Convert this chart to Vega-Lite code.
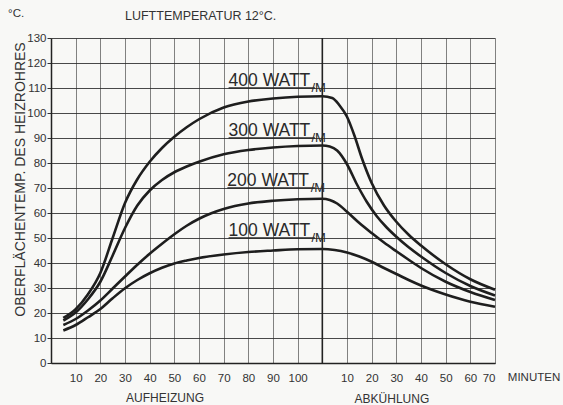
{
  "$schema": "https://vega.github.io/schema/vega-lite/v6.json",
  "width": 444,
  "height": 325,
  "autosize": {"type": "none"},
  "padding": {"left": 51, "top": 38, "right": 68, "bottom": 42},
  "background": "#f8f8f6",
  "config": {"view": {"stroke": null}, "font": "Liberation Sans"},
  "datasets": {
    "curves": [
      {"series": "400", "t": 5, "T": 18}, {"series": "400", "t": 10, "T": 21.5}, {"series": "400", "t": 15, "T": 27.5}, {"series": "400", "t": 20, "T": 36}, {"series": "400", "t": 25, "T": 50}, {"series": "400", "t": 30, "T": 64}, {"series": "400", "t": 35, "T": 73.5}, {"series": "400", "t": 40, "T": 80.5}, {"series": "400", "t": 45, "T": 86}, {"series": "400", "t": 50, "T": 90.5}, {"series": "400", "t": 55, "T": 94.3}, {"series": "400", "t": 60, "T": 97.5}, {"series": "400", "t": 70, "T": 102.2}, {"series": "400", "t": 80, "T": 104.6}, {"series": "400", "t": 90, "T": 105.8}, {"series": "400", "t": 100, "T": 106.5}, {"series": "400", "t": 110, "T": 106.7}, {"series": "400", "t": 114, "T": 106}, {"series": "400", "t": 117, "T": 103}, {"series": "400", "t": 120, "T": 98.5}, {"series": "400", "t": 123, "T": 91}, {"series": "400", "t": 126, "T": 82}, {"series": "400", "t": 130, "T": 72}, {"series": "400", "t": 135, "T": 63}, {"series": "400", "t": 140, "T": 56.5}, {"series": "400", "t": 145, "T": 51.3}, {"series": "400", "t": 150, "T": 47}, {"series": "400", "t": 160, "T": 39.5}, {"series": "400", "t": 170, "T": 33.5}, {"series": "400", "t": 180, "T": 29.3},
      {"series": "300", "t": 5, "T": 17}, {"series": "300", "t": 10, "T": 20.2}, {"series": "300", "t": 15, "T": 25.5}, {"series": "300", "t": 20, "T": 32.5}, {"series": "300", "t": 25, "T": 43}, {"series": "300", "t": 30, "T": 54}, {"series": "300", "t": 35, "T": 63}, {"series": "300", "t": 40, "T": 69}, {"series": "300", "t": 45, "T": 73.2}, {"series": "300", "t": 50, "T": 76.3}, {"series": "300", "t": 55, "T": 78.6}, {"series": "300", "t": 60, "T": 80.5}, {"series": "300", "t": 70, "T": 83.5}, {"series": "300", "t": 80, "T": 85.2}, {"series": "300", "t": 90, "T": 86.2}, {"series": "300", "t": 100, "T": 86.8}, {"series": "300", "t": 110, "T": 87}, {"series": "300", "t": 113, "T": 86.6}, {"series": "300", "t": 116, "T": 85}, {"series": "300", "t": 120, "T": 79.5}, {"series": "300", "t": 124, "T": 71.5}, {"series": "300", "t": 128, "T": 64.5}, {"series": "300", "t": 132, "T": 58.8}, {"series": "300", "t": 136, "T": 54.3}, {"series": "300", "t": 140, "T": 50.5}, {"series": "300", "t": 145, "T": 46.3}, {"series": "300", "t": 150, "T": 42.6}, {"series": "300", "t": 160, "T": 36}, {"series": "300", "t": 170, "T": 30.8}, {"series": "300", "t": 180, "T": 27},
      {"series": "200", "t": 5, "T": 15.2}, {"series": "200", "t": 10, "T": 17.6}, {"series": "200", "t": 15, "T": 21}, {"series": "200", "t": 20, "T": 25}, {"series": "200", "t": 25, "T": 29.8}, {"series": "200", "t": 30, "T": 34.6}, {"series": "200", "t": 35, "T": 39.3}, {"series": "200", "t": 40, "T": 43.7}, {"series": "200", "t": 45, "T": 47.7}, {"series": "200", "t": 50, "T": 51.5}, {"series": "200", "t": 55, "T": 54.9}, {"series": "200", "t": 60, "T": 57.7}, {"series": "200", "t": 65, "T": 59.9}, {"series": "200", "t": 70, "T": 61.6}, {"series": "200", "t": 80, "T": 63.8}, {"series": "200", "t": 90, "T": 64.9}, {"series": "200", "t": 100, "T": 65.5}, {"series": "200", "t": 110, "T": 65.7}, {"series": "200", "t": 113, "T": 65.2}, {"series": "200", "t": 116, "T": 63.8}, {"series": "200", "t": 120, "T": 60.5}, {"series": "200", "t": 125, "T": 56}, {"series": "200", "t": 130, "T": 52}, {"series": "200", "t": 135, "T": 48.2}, {"series": "200", "t": 140, "T": 44.7}, {"series": "200", "t": 145, "T": 41.3}, {"series": "200", "t": 150, "T": 38}, {"series": "200", "t": 160, "T": 32.5}, {"series": "200", "t": 170, "T": 28.4}, {"series": "200", "t": 180, "T": 25.2},
      {"series": "100", "t": 5, "T": 13}, {"series": "100", "t": 10, "T": 15.2}, {"series": "100", "t": 15, "T": 18.3}, {"series": "100", "t": 20, "T": 21.6}, {"series": "100", "t": 25, "T": 25.9}, {"series": "100", "t": 30, "T": 29.9}, {"series": "100", "t": 35, "T": 33.2}, {"series": "100", "t": 40, "T": 35.9}, {"series": "100", "t": 45, "T": 38.1}, {"series": "100", "t": 50, "T": 39.8}, {"series": "100", "t": 55, "T": 41}, {"series": "100", "t": 60, "T": 42}, {"series": "100", "t": 70, "T": 43.4}, {"series": "100", "t": 80, "T": 44.4}, {"series": "100", "t": 90, "T": 45}, {"series": "100", "t": 100, "T": 45.5}, {"series": "100", "t": 110, "T": 45.6}, {"series": "100", "t": 115, "T": 45.2}, {"series": "100", "t": 120, "T": 44.2}, {"series": "100", "t": 125, "T": 42.6}, {"series": "100", "t": 130, "T": 40.5}, {"series": "100", "t": 135, "T": 38}, {"series": "100", "t": 140, "T": 35.6}, {"series": "100", "t": 145, "T": 33.2}, {"series": "100", "t": 150, "T": 31}, {"series": "100", "t": 160, "T": 27.4}, {"series": "100", "t": 170, "T": 24.5}, {"series": "100", "t": 180, "T": 22.5}
    ],
    "wattLabels": [
      {"text": "400 WATT", "t": 72, "T": 110.7},
      {"text": "300 WATT", "t": 72, "T": 90.7},
      {"text": "200 WATT", "t": 71.5, "T": 70.7},
      {"text": "100 WATT", "t": 72, "T": 50.7}
    ],
    "unitLabels": [
      {"text": "/M", "t": 105.6, "T": 108.4},
      {"text": "/M", "t": 105.6, "T": 88.4},
      {"text": "/M", "t": 105.3, "T": 68.4},
      {"text": "/M", "t": 105.6, "T": 48.4}
    ],
    "underlines": [
      {"t": 72, "t1": 107, "T": 110},
      {"t": 72, "t1": 107, "T": 90},
      {"t": 71.5, "t1": 107, "T": 70},
      {"t": 72, "t1": 107, "T": 50}
    ]
  },
  "encoding": {
    "x": {
      "field": "t", "type": "quantitative",
      "scale": {"domain": [0, 180], "nice": false},
      "axis": {
        "values": [0, 10, 20, 30, 40, 50, 60, 70, 80, 90, 100, 110, 120, 130, 140, 150, 160, 170, 180],
        "labelExpr": "datum.value == 0 || datum.value == 110 ? '' : (datum.value < 110 ? datum.label : format(datum.value - 110, 'd'))",
        "labelOverlap": false,
        "title": null,
        "grid": true, "gridColor": "#3a3a3a", "gridOpacity": 0.7, "gridWidth": 0.9,
        "ticks": false, "domain": true, "domainColor": "#222", "domainWidth": 1.5,
        "labelPadding": 9, "labelFontSize": 11.5, "labelColor": "#333", "labelFont": "Liberation Sans"
      }
    },
    "y": {
      "field": "T", "type": "quantitative",
      "scale": {"domain": [0, 130], "nice": false},
      "axis": {
        "values": [0, 10, 20, 30, 40, 50, 60, 70, 80, 90, 100, 110, 120, 130],
        "labelOverlap": false,
        "title": "OBERFLÄCHENTEMP. DES HEIZROHRES",
        "titleFontSize": 14, "titleFontWeight": "normal", "titleColor": "#333", "titleFont": "Liberation Sans",
        "titleX": -24, "titleY": 141,
        "grid": true, "gridColor": "#2a2a2a", "gridOpacity": 0.85, "gridWidth": 1,
        "tickSize": 4, "tickColor": "#333", "domainColor": "#222", "domainWidth": 1.5,
        "labelPadding": 1, "labelFontSize": 11.5, "labelColor": "#333", "labelFont": "Liberation Sans"
      }
    }
  },
  "layer": [
    {
      "data": {"name": "curves"},
      "mark": {"type": "line", "interpolate": "monotone", "color": "#1e1e1e", "strokeWidth": 2.6},
      "encoding": {"detail": {"field": "series"}}
    },
    {
      "data": {"values": [{"t": 110, "T": 0, "T2": 130}]},
      "mark": {"type": "rule", "color": "#222", "strokeWidth": 1.6},
      "encoding": {"y2": {"field": "T2"}}
    },
    {
      "data": {"name": "underlines"},
      "mark": {"type": "rule", "color": "#2a2a2a", "strokeWidth": 1.4},
      "encoding": {"x2": {"field": "t1"}}
    },
    {
      "data": {"name": "wattLabels"},
      "mark": {"type": "text", "align": "left", "baseline": "alphabetic", "fontSize": 17.5, "color": "#2a2a2a", "font": "Liberation Sans"},
      "encoding": {"text": {"field": "text"}}
    },
    {
      "data": {"name": "unitLabels"},
      "mark": {"type": "text", "align": "left", "baseline": "alphabetic", "fontSize": 13, "color": "#2a2a2a", "font": "Liberation Sans"},
      "encoding": {"text": {"field": "text"}}
    },
    {
      "data": {"values": [
        {"text": "°C.", "t": -17.4, "T": 139.6},
        {"text": "MINUTEN", "t": 185.2, "T": -6}
      ]},
      "mark": {"type": "text", "align": "left", "baseline": "middle", "fontSize": 11.5, "color": "#333", "font": "Liberation Sans"},
      "encoding": {"text": {"field": "text"}}
    },
    {
      "data": {"values": [
        {"text": "LUFTTEMPERATUR 12°C.", "t": 30, "T": 138.8}
      ]},
      "mark": {"type": "text", "align": "left", "baseline": "middle", "fontSize": 12.5, "color": "#333", "font": "Liberation Sans"},
      "encoding": {"text": {"field": "text"}}
    },
    {
      "data": {"values": [
        {"text": "AUFHEIZUNG", "t": 46.2, "T": -13.8},
        {"text": "ABKÜHLUNG", "t": 138.2, "T": -14.2}
      ]},
      "mark": {"type": "text", "align": "center", "baseline": "middle", "fontSize": 12, "color": "#333", "font": "Liberation Sans"},
      "encoding": {"text": {"field": "text"}}
    }
  ]
}
